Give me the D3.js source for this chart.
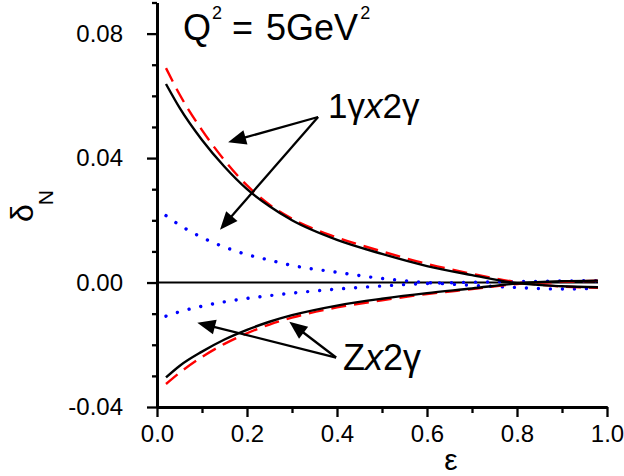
<!DOCTYPE html>
<html>
<head>
<meta charset="utf-8">
<script src="https://cdn.jsdelivr.net/npm/d3@7"></script>
<style>
  html, body { margin: 0; padding: 0; background: #fff; }
  svg { display: block; font-family: "Liberation Sans", Arial, sans-serif; }
</style>
</head>
<body>
<svg id="chart" width="624" height="476"></svg>
<script>
// ---- data ----
const eps = [0.02, 0.05, 0.1, 0.15, 0.2, 0.25, 0.3, 0.4, 0.5, 0.6, 0.7, 0.8, 0.9, 0.98];
const blackUpper = [0.0638, 0.0562, 0.0458, 0.0372, 0.0300, 0.0245, 0.0200, 0.0137, 0.0092, 0.0053, 0.0024, -0.0002, -0.0012, -0.0015];
const redUpper   = [0.0689, 0.0605, 0.0490, 0.0393, 0.0312, 0.0250, 0.0205, 0.0145, 0.0100, 0.0060, 0.0028, 0.0001, -0.0013, -0.0017];
const blueUpper  = [0.0215, 0.0185, 0.0145, 0.0114, 0.0090, 0.0072, 0.0055, 0.0033, 0.0013, 0.0000, -0.0009, -0.0016, -0.0021, -0.0018];
const blackLower = [-0.0305, -0.0268, -0.0222, -0.0183, -0.0152, -0.0126, -0.0105, -0.0074, -0.0052, -0.0034, -0.0019, -0.0003, 0.0004, 0.0006];
const redLower   = [-0.0326, -0.0290, -0.0239, -0.0197, -0.0163, -0.0135, -0.0113, -0.0080, -0.0057, -0.0037, -0.0021, -0.0005, 0.0002, 0.0006];
const blueLower  = [-0.0108, -0.0094, -0.0076, -0.0062, -0.0051, -0.0042, -0.0034, -0.0021, -0.0011, -0.0003, 0.0001, 0.0003, 0.0005, 0.0006];
const zeroEps = [0, 0.98];
const zeroVals = [0, 0];

const xMajor = [0, 0.2, 0.4, 0.6, 0.8, 1.0];
const xMajorLabels = ["0.0", "0.2", "0.4", "0.6", "0.8", "1.0"];
const xMinor = [0.1, 0.3, 0.5, 0.7, 0.9];
const yMajor = [-0.04, 0, 0.04, 0.08];
const yMajorLabels = ["-0.04", "0.00", "0.04", "0.08"];
const yMinor = [-0.03, -0.02, -0.01, 0.01, 0.02, 0.03, 0.05, 0.06, 0.07, 0.09];

// annotation arrows in data coordinates: [vertex, tip]
const upperArrows = [[[0.358, 0.0532], [0.158, 0.0451]], [[0.358, 0.0532], [0.140, 0.0170]]];
const lowerArrows = [[[0.398, -0.0241], [0.0896, -0.0129]], [[0.398, -0.0241], [0.294, -0.0126]]];

// ---- drawing ----
const svg = d3.select("#chart");
const x = d3.scaleLinear().domain([0, 1]).range([157, 607]);
const y = d3.scaleLinear().domain([-0.04, 0.09]).range([407, 2.5]);

const line = d3.line().x(d => x(d[0])).y(d => y(d[1])).curve(d3.curveMonotoneX);
const pts = vals => eps.map((e, i) => [e, vals[i]]);

// zero line
svg.append("path")
  .attr("d", line(zeroEps.map((e, i) => [e, zeroVals[i]])))
  .attr("fill", "none").attr("stroke", "#000").attr("stroke-width", 2);

// blue dotted
[blueUpper, blueLower].forEach(v => {
  svg.append("path").attr("d", line(pts(v)))
    .attr("fill", "none").attr("stroke", "#0000ff").attr("stroke-width", 3.4)
    .attr("stroke-linecap", "round").attr("stroke-dasharray", "0.01 12");
});
// red dashed
[redUpper, redLower].forEach(v => {
  svg.append("path").attr("d", line(pts(v)))
    .attr("fill", "none").attr("stroke", "#ff0000").attr("stroke-width", 2.4)
    .attr("stroke-dasharray", "15 8");
});
// black solid
[blackUpper, blackLower].forEach(v => {
  svg.append("path").attr("d", line(pts(v)))
    .attr("fill", "none").attr("stroke", "#000").attr("stroke-width", 2.4);
});

// axes
function styleAxis(g) {
  g.select(".domain").attr("stroke", "#000").attr("stroke-width", 2.8);
  g.selectAll(".tick line").attr("stroke", "#000").attr("stroke-width", 2.3);
  g.selectAll(".tick text").attr("fill", "#000").attr("font-size", 24)
    .attr("font-family", "'Liberation Sans', Arial, sans-serif");
}
const gxMinor = svg.append("g").attr("transform", `translate(0,${y(-0.04)})`)
  .call(d3.axisBottom(x).tickValues(xMinor).tickSize(6).tickSizeOuter(0).tickFormat(""));
styleAxis(gxMinor);
const gx = svg.append("g").attr("transform", `translate(0,${y(-0.04)})`)
  .call(d3.axisBottom(x).tickValues(xMajor).tickSize(10).tickSizeOuter(0).tickPadding(7)
    .tickFormat((d, i) => xMajorLabels[i]));
styleAxis(gx);
gx.selectAll(".tick text").attr("dy", "0.71em").attr("y", 18);

const gyMinor = svg.append("g").attr("transform", `translate(${x(0)},0)`)
  .call(d3.axisLeft(y).tickValues(yMinor).tickSize(5).tickSizeOuter(0).tickFormat(""));
styleAxis(gyMinor);
const gy = svg.append("g").attr("transform", `translate(${x(0)},0)`)
  .call(d3.axisLeft(y).tickValues(yMajor).tickSize(10).tickSizeOuter(0).tickPadding(24)
    .tickFormat((d, i) => yMajorLabels[i]));
styleAxis(gy);

// axis titles
svg.append("text").attr("x", 451).attr("y", 470).attr("text-anchor", "middle")
  .attr("font-size", 30).attr("fill", "#000").text("ε");
const yt = svg.append("text").attr("transform", "translate(33,222) rotate(-90)")
  .attr("font-size", 32).attr("fill", "#000");
yt.append("tspan").text("δ");
yt.append("tspan").attr("dy", 20).attr("dx", -1).attr("font-size", 21).text("N");

// Q^2 label
const q = svg.append("text").attr("x", 183).attr("y", 39.5).attr("font-size", 36).attr("fill", "#000");
q.append("tspan").text("Q");
q.append("tspan").attr("dy", -21).attr("dx", 1).attr("font-size", 18).text("2");
q.append("tspan").attr("dy", 21).attr("dx", 0).text(" = ");
q.append("tspan").attr("dx", 3).text("5GeV");
q.append("tspan").attr("dy", -21).attr("dx", 2).attr("font-size", 18).text("2");

// annotation labels
const t1 = svg.append("text").attr("x", 328).attr("y", 118).attr("font-size", 35).attr("fill", "#000");
t1.append("tspan").text("1γ");
t1.append("tspan").attr("font-style", "italic").text("x");
t1.append("tspan").text("2γ");
const t2 = svg.append("text").attr("x", 343).attr("y", 370).attr("font-size", 36).attr("fill", "#000");
t2.append("tspan").text("Z");
t2.append("tspan").attr("font-style", "italic").text("x");
t2.append("tspan").text("2γ");

// arrows
function arrow(a) {
  const x0 = x(a[0][0]), y0 = y(a[0][1]), x1 = x(a[1][0]), y1 = y(a[1][1]);
  const dx = x1 - x0, dy = y1 - y0, L = Math.hypot(dx, dy);
  const ux = dx / L, uy = dy / L, hl = 18, hw = 7.5;
  const bx = x1 - ux * hl, by = y1 - uy * hl;
  svg.append("line").attr("x1", x0).attr("y1", y0).attr("x2", bx + ux * 2).attr("y2", by + uy * 2)
    .attr("stroke", "#000").attr("stroke-width", 2.3);
  svg.append("path")
    .attr("d", `M${x1},${y1}L${bx - uy * hw},${by + ux * hw}L${bx + uy * hw},${by - ux * hw}Z`)
    .attr("fill", "#000");
}
upperArrows.forEach(arrow);
lowerArrows.forEach(arrow);
</script>
</body>
</html>
